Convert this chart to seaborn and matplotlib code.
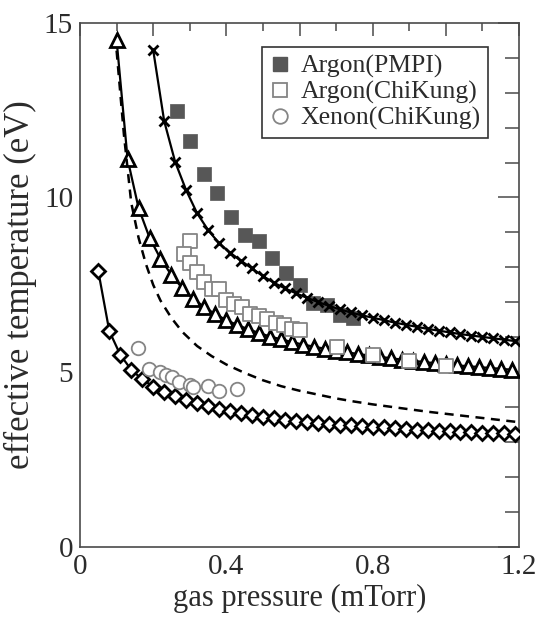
import matplotlib
matplotlib.use("Agg")
import matplotlib.pyplot as plt
import pandas as pd
import seaborn as sns
from matplotlib.lines import Line2D
from matplotlib.ticker import FixedLocator, FixedFormatter, MultipleLocator

# --- model curves (gas pressure in mTorr, effective temperature in eV) ---
cross_p = [0.20, 0.23, 0.26, 0.29, 0.32, 0.35, 0.38, 0.41, 0.44, 0.47, 0.50,
           0.53, 0.56, 0.59, 0.62, 0.65, 0.68, 0.71, 0.74, 0.77, 0.80, 0.83,
           0.86, 0.89, 0.92, 0.95, 0.98, 1.01, 1.04, 1.07, 1.10, 1.13, 1.16, 1.19]
cross_T = [14.22, 12.19, 11.02, 10.21, 9.55, 9.07, 8.69, 8.42, 8.19, 7.97, 7.75,
           7.56, 7.40, 7.26, 7.13, 7.01, 6.90, 6.80, 6.71, 6.63, 6.56, 6.49,
           6.42, 6.36, 6.30, 6.24, 6.19, 6.14, 6.09, 6.05, 6.01, 5.97, 5.93, 5.89]

tri_p = [0.10, 0.13, 0.16, 0.19, 0.22, 0.25, 0.28, 0.31, 0.34, 0.37, 0.40,
         0.43, 0.46, 0.49, 0.52, 0.55, 0.58, 0.61, 0.64, 0.67, 0.70, 0.73,
         0.76, 0.79, 0.82, 0.85, 0.88, 0.91, 0.94, 0.97, 1.00, 1.03, 1.06,
         1.09, 1.12, 1.15, 1.18]
tri_T = [14.50, 11.10, 9.70, 8.85, 8.25, 7.78, 7.40, 7.10, 6.86, 6.66, 6.49,
         6.35, 6.23, 6.12, 6.02, 5.94, 5.86, 5.79, 5.73, 5.67, 5.62, 5.57,
         5.52, 5.48, 5.44, 5.40, 5.36, 5.33, 5.29, 5.26, 5.23, 5.20, 5.17,
         5.15, 5.12, 5.10, 5.07]

dia_p = [0.05, 0.08, 0.11, 0.14, 0.17, 0.20, 0.23, 0.26, 0.29, 0.32, 0.35,
         0.38, 0.41, 0.44, 0.47, 0.50, 0.53, 0.56, 0.59, 0.62, 0.65, 0.68,
         0.71, 0.74, 0.77, 0.80, 0.83, 0.86, 0.89, 0.92, 0.95, 0.98, 1.01,
         1.04, 1.07, 1.10, 1.13, 1.16, 1.19]
dia_T = [7.89, 6.18, 5.50, 5.07, 4.80, 4.59, 4.44, 4.32, 4.21, 4.11, 4.03,
         3.96, 3.89, 3.83, 3.78, 3.73, 3.68, 3.64, 3.61, 3.58, 3.55, 3.52,
         3.50, 3.48, 3.46, 3.44, 3.42, 3.40, 3.38, 3.36, 3.35, 3.33, 3.32,
         3.30, 3.29, 3.27, 3.26, 3.25, 3.24]

dash_p = [0.10, 0.12, 0.14, 0.16, 0.18, 0.20, 0.22, 0.25, 0.28, 0.32, 0.36,
          0.40, 0.45, 0.50, 0.55, 0.60, 0.65, 0.70, 0.75, 0.80, 0.85, 0.90,
          0.95, 1.00, 1.05, 1.10, 1.15, 1.20]
dash_T = [14.20, 11.80, 9.85, 8.85, 8.10, 7.50, 7.05, 6.55, 6.15, 5.75, 5.46,
          5.22, 4.98, 4.77, 4.60, 4.47, 4.36, 4.25, 4.16, 4.08, 4.01, 3.94,
          3.87, 3.81, 3.75, 3.69, 3.63, 3.57]

# --- measurements ---
pmpi_p = [0.264, 0.301, 0.339, 0.375, 0.414, 0.451, 0.489, 0.526, 0.564,
          0.600, 0.638, 0.674, 0.711, 0.747]
pmpi_T = [12.47, 11.62, 10.66, 10.13, 9.45, 8.93, 8.74, 8.26, 7.85,
          7.50, 6.97, 6.92, 6.64, 6.54]

chik_ar_p = [0.301, 0.283, 0.301, 0.321, 0.340, 0.360, 0.381, 0.400, 0.420,
             0.442, 0.466, 0.490, 0.512, 0.535, 0.558, 0.580, 0.600, 0.702,
             0.800, 0.900, 1.000]
chik_ar_T = [8.76, 8.38, 8.13, 7.86, 7.58, 7.37, 7.37, 7.08, 6.95,
             6.88, 6.66, 6.62, 6.52, 6.40, 6.35, 6.25, 6.22, 5.72,
             5.48, 5.31, 5.17]

chik_xe_p = [0.159, 0.189, 0.219, 0.236, 0.251, 0.270, 0.300, 0.310, 0.350,
             0.381, 0.428]
chik_xe_T = [5.68, 5.10, 5.00, 4.93, 4.85, 4.72, 4.63, 4.58, 4.60,
             4.46, 4.51]

legend_labels = ["Argon(PMPI)", "Argon(ChiKung)", "Xenon(ChiKung)"]
x_tick_labels = ["0", "", "0.4", "", "0.8", "", "1.2"]
y_tick_labels = ["0", "5", "10", "15"]

sns.set_theme(style="white")
plt.rcParams["font.family"] = ["Liberation Serif", "DejaVu Serif"]
plt.rcParams["text.color"] = "#2b2b2b"
plt.rcParams["axes.labelcolor"] = "#2b2b2b"

fig = plt.figure(figsize=(5.37, 6.17), dpi=100)
ax = fig.add_axes([0.149, 0.1135, 0.8175, 0.8497])

pmpi_color = "#575757"
open_edge = "#858585"

# filled squares sit under the model curves
sns.scatterplot(x=pmpi_p, y=pmpi_T, ax=ax, marker="s", s=110,
                color=pmpi_color, edgecolor=pmpi_color, linewidth=0.5,
                zorder=2, legend=False)

line_kw = dict(ax=ax, color="black", linewidth=1.6, sort=False,
               estimator=None, legend=False, zorder=3)
sns.lineplot(x=cross_p, y=cross_T, marker="x", markersize=7.5,
             mec="black", mew=2.0, **line_kw)
sns.lineplot(x=tri_p, y=tri_T, marker="^", markersize=10,
             mfc="white", mec="black", mew=2.0, **line_kw)
sns.lineplot(x=dia_p, y=dia_T, marker="D", markersize=7.2,
             mfc="white", mec="black", mew=2.0, **line_kw)
sns.lineplot(x=dash_p, y=dash_T, ax=ax, color="black", linewidth=1.8,
             linestyle=(0, (3.6, 2.6)), sort=False, estimator=None,
             legend=False, zorder=3)

# open symbols drawn on top
sns.scatterplot(x=chik_ar_p, y=chik_ar_T, ax=ax, marker="s", s=110,
                color="white", edgecolor=open_edge, linewidth=1.3,
                zorder=4, legend=False)
sns.scatterplot(x=chik_xe_p, y=chik_xe_T, ax=ax, marker="o", s=95,
                color="white", edgecolor=open_edge, linewidth=1.3,
                zorder=4, legend=False)

ax.set_xlim(0, 1.2)
ax.set_ylim(0, 15)

ax.xaxis.set_major_locator(FixedLocator([0, 0.2, 0.4, 0.6, 0.8, 1.0, 1.2]))
ax.xaxis.set_major_formatter(FixedFormatter(x_tick_labels))
ax.xaxis.set_minor_locator(MultipleLocator(0.1))
ax.yaxis.set_major_locator(FixedLocator([0, 5, 10, 15]))
ax.yaxis.set_major_formatter(FixedFormatter(y_tick_labels))
ax.yaxis.set_minor_locator(MultipleLocator(1))

spine_c = "#4a4a4a"
for sp in ax.spines.values():
    sp.set_visible(True)
    sp.set_color(spine_c)
    sp.set_linewidth(1.2)

ax.tick_params(axis="both", which="both", direction="in", top=True,
               right=True, color=spine_c, width=1.1, labelcolor="#2b2b2b",
               labelsize=21)
ax.tick_params(axis="x", which="major", length=9, pad=5)
ax.tick_params(axis="x", which="minor", length=5.5)
ax.tick_params(axis="y", which="major", length=15, pad=5)
ax.tick_params(axis="y", which="minor", length=10)

ax.set_xlabel("gas pressure (mTorr)", fontsize=22, labelpad=3)
ax.set_ylabel("effective temperature (eV)", fontsize=25, labelpad=5)
ax.grid(False)

handles = [
    Line2D([], [], linestyle="none", marker="s", markersize=10.5,
           mfc=pmpi_color, mec=pmpi_color),
    Line2D([], [], linestyle="none", marker="s", markersize=10.5,
           mfc="white", mec=open_edge, mew=1.3),
    Line2D([], [], linestyle="none", marker="o", markersize=10.5,
           mfc="white", mec=open_edge, mew=1.3),
]
leg = ax.legend(handles, legend_labels, loc="upper right",
                bbox_to_anchor=(0.93, 0.953), fontsize=18.5, frameon=True,
                fancybox=False, framealpha=1, edgecolor="#333333",
                handlelength=0.8, handletextpad=0.4, labelspacing=0.1,
                borderpad=0.3, borderaxespad=0)
leg.get_frame().set_linewidth(1.2)

fig.savefig("out.png", dpi=100)
